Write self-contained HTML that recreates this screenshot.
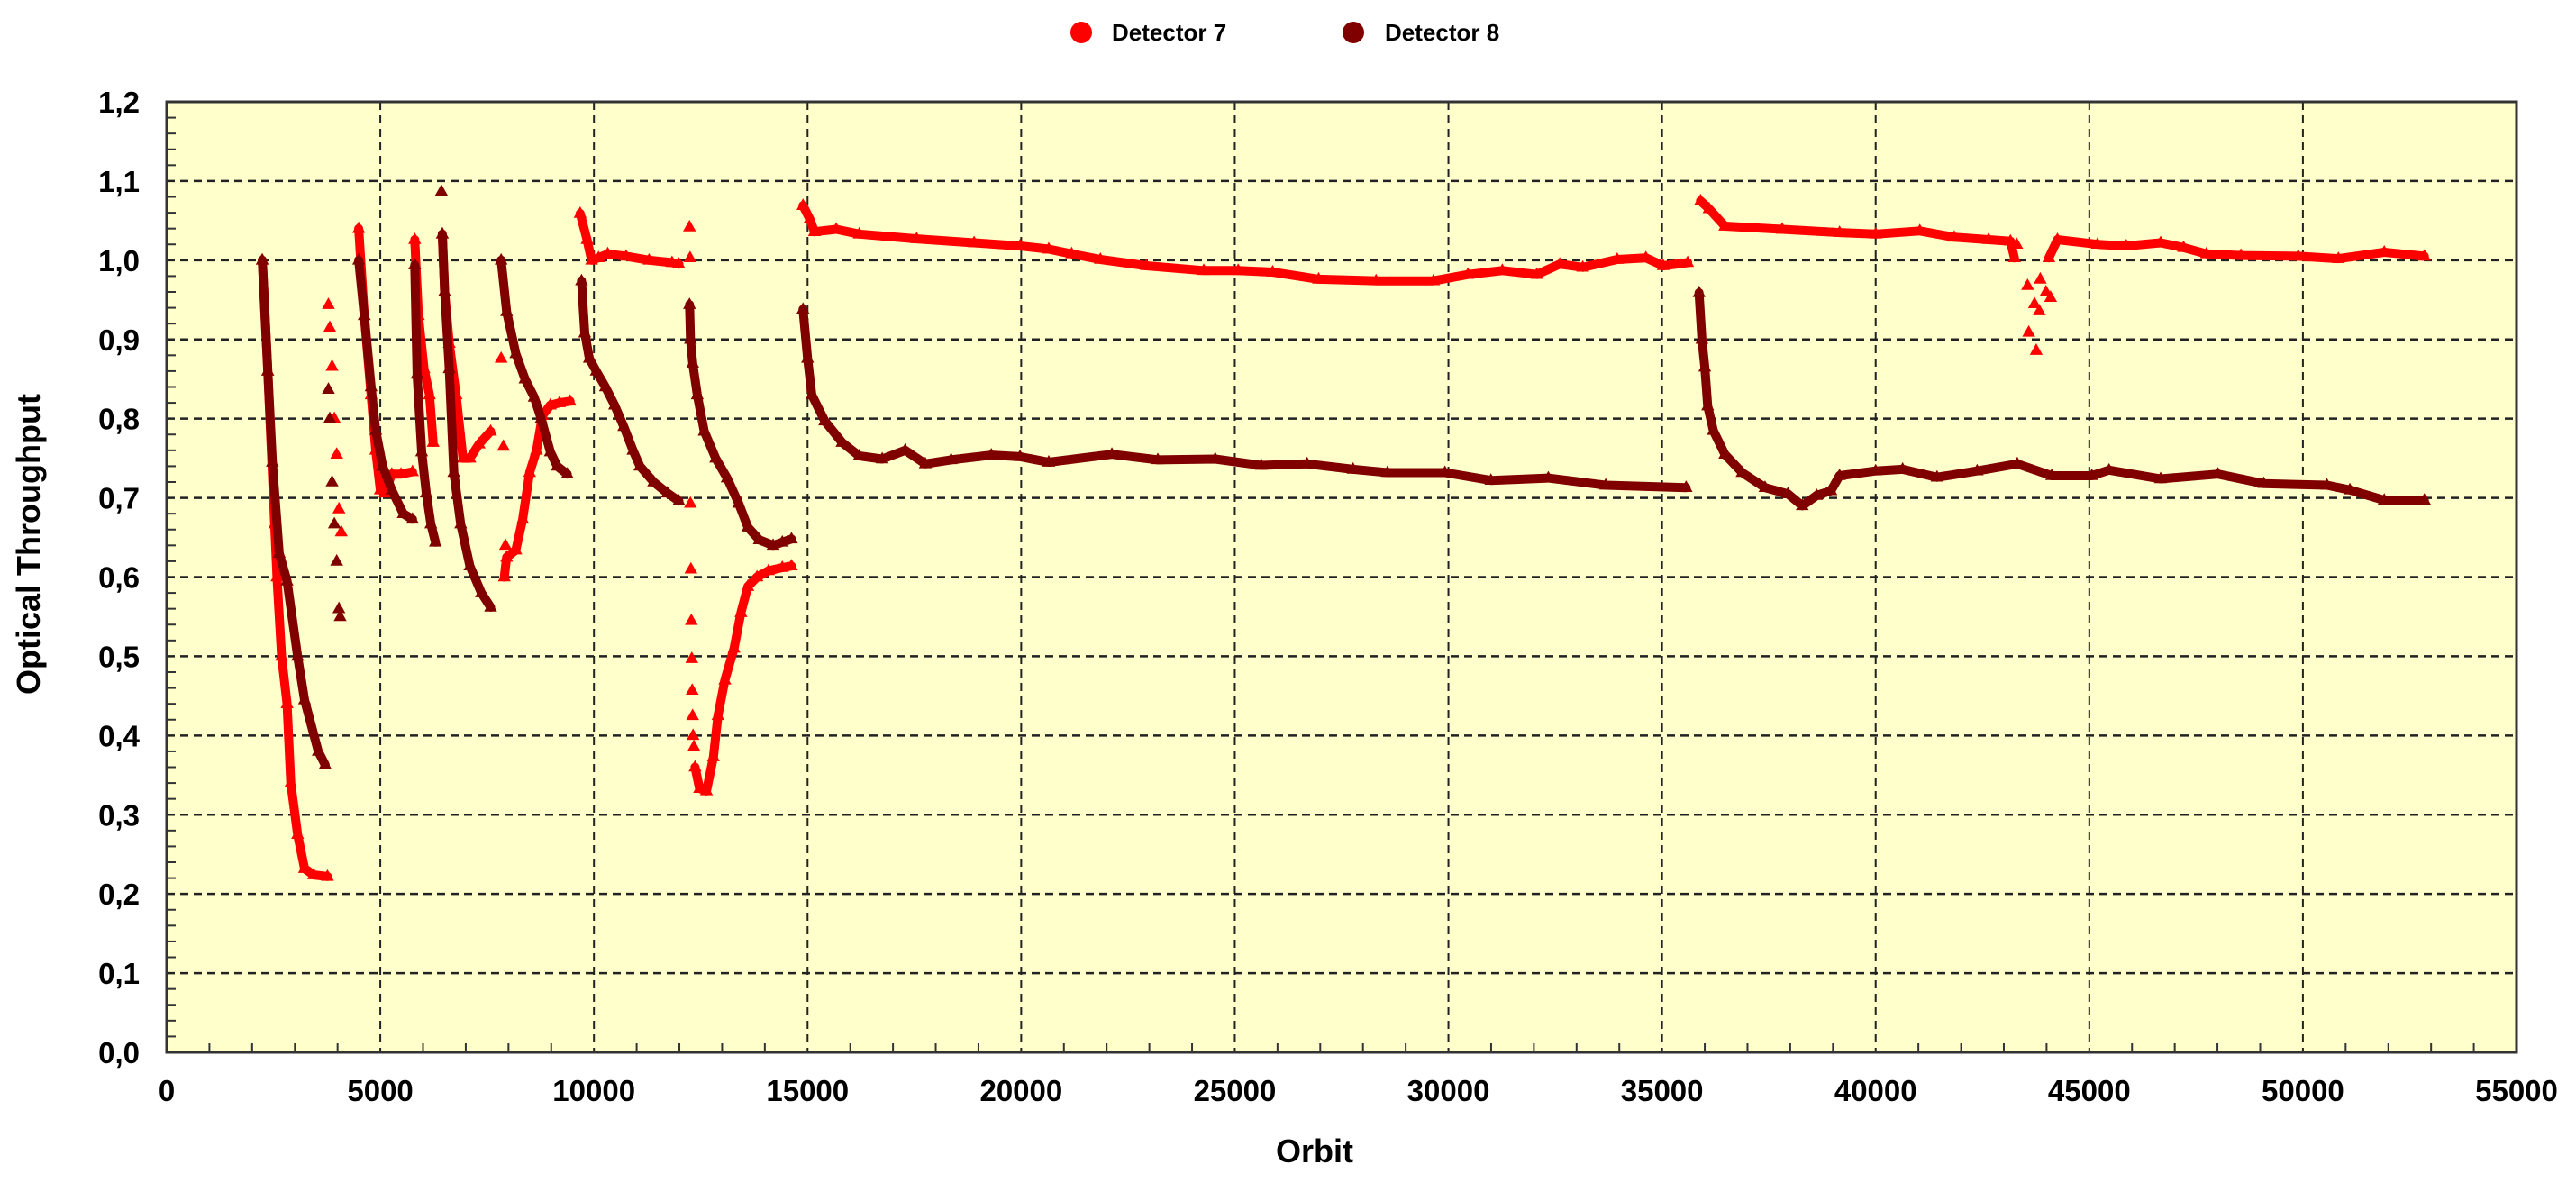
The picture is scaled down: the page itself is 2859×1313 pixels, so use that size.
<!DOCTYPE html>
<html><head><meta charset="utf-8"><style>
html,body{margin:0;padding:0;background:#fff;}
svg{display:block;font-family:"Liberation Sans",Arial,sans-serif;}
</style></head><body>
<svg id="chart" width="2859" height="1313" viewBox="0 0 2859 1313" xmlns="http://www.w3.org/2000/svg">
<g>
<circle cx="1200" cy="36" r="12" fill="#ff0000"/>
<text x="1234" y="45" font-size="26" font-weight="bold" fill="#000">Detector 7</text>
<circle cx="1502" cy="36" r="12" fill="#800000"/>
<text x="1537" y="45" font-size="26" font-weight="bold" fill="#000">Detector 8</text>
</g>
<rect x="185" y="113" width="2608" height="1055" fill="#ffffcc"/>
<g id="grid"></g>
<g id="series"></g>
<rect x="185" y="113" width="2608" height="1055" fill="none" stroke="#333" stroke-width="3"/>
<g id="axes"></g>
<text transform="translate(44,604) rotate(-90)" text-anchor="middle" font-size="36" font-weight="bold">Optical Throughput</text>
<text x="1459" y="1290" text-anchor="middle" font-size="36" font-weight="bold">Orbit</text>
</svg>
<script>
const xTicks=[0,5000,10000,15000,20000,25000,30000,35000,40000,45000,50000,55000];
const yTicks=[0,0.1,0.2,0.3,0.4,0.5,0.6,0.7,0.8,0.9,1.0,1.1,1.2];
const yTickLabels=["0,0","0,1","0,2","0,3","0,4","0,5","0,6","0,7","0,8","0,9","1,0","1,1","1,2"];
const d7x=[2237,2366,2527,2581,2688,2817,2903,3065,3226,3441,3763,null,
4495,4624,4785,4893,5000,5108,5269,5484,5753,null,
5806,5893,6022,6151,6237,null,
6452,6505,6613,6774,6935,7097,7312,7581,null,
7903,7957,8172,8333,8495,8656,8796,8979,9194,9441,null,
9677,9839,9946,10108,10323,10753,11290,11828,11989,null,
12366,12473,12634,12796,12903,13065,13280,13441,13602,13817,14086,14409,14624,null,
14893,15054,15161,15672,16210,17554,18898,19973,20645,21182,21854,22930,24274,25080,25886,26962,28306,29650,30456,31262,32069,32606,33144,33950,34622,35026,35600,null,
35900,36100,36470,37812,39155,40000,41033,41839,42644,43154,43248,null,
44053,44255,45193,45865,46670,47207,47743,48549,49891,50830,51904,52843];
const d7y=[1.0,0.86,0.667,0.60,0.50,0.44,0.34,0.275,0.232,0.224,0.222,null,
1.04,0.93,0.83,0.76,0.71,0.706,0.73,0.73,0.733,null,
1.026,0.93,0.863,0.83,0.77,null,
1.033,0.96,0.895,0.83,0.75,0.75,0.768,0.784,null,
0.60,0.625,0.634,0.673,0.732,0.76,0.804,0.817,0.82,0.822,null,
1.059,1.026,1.0,1.003,1.008,1.005,1.0,0.997,0.995,null,
0.36,0.333,0.33,0.373,0.425,0.47,0.51,0.555,0.588,0.60,0.608,0.612,0.614,null,
1.069,1.052,1.036,1.039,1.033,1.027,1.022,1.018,1.014,1.008,1.001,0.993,0.987,0.987,0.985,0.976,0.974,0.974,0.982,0.987,0.982,0.995,0.991,1.001,1.003,0.993,0.997,null,
1.075,1.065,1.043,1.039,1.035,1.033,1.037,1.029,1.026,1.024,1.003,null,
1.003,1.026,1.02,1.018,1.022,1.016,1.008,1.006,1.005,1.002,1.01,1.005];
const d7sx=[3785,3817,3871,3925,3979,4032,4086,7828,7882,7930,12237,12250,12258,12270,12280,12290,12300,12310,12320,12340,43300,43556,43583,43718,43758,43852,43830,43986,44094];
const d7sy=[0.944,0.915,0.866,0.80,0.755,0.686,0.657,0.876,0.765,0.64,1.042,1.003,0.693,0.61,0.545,0.497,0.457,0.425,0.40,0.386,1.02,0.968,0.909,0.945,0.886,0.976,0.936,0.96,0.953];
const d8x=[2237,2366,2473,2634,2817,3065,3226,3548,3710,null,
4495,4624,4785,4893,5054,5269,5538,5753,null,
5806,5860,5968,6075,6183,6290,null,
6452,6505,6613,6720,6882,7097,7366,7581,null,
7828,7957,8172,8387,8602,8764,8979,9140,9377,null,
9710,9785,9893,10054,10269,10484,10699,10914,11075,11398,11720,11989,null,
12237,12258,12312,12419,12581,12850,13118,13387,13602,13871,14194,14409,14624,null,
14893,15000,15100,15403,15806,16210,16747,17285,17755,18360,19301,19973,20645,22123,23198,24542,25618,26693,27768,28574,29918,30994,32338,33682,35563,null,
35867,35933,36000,36068,36202,36470,36873,37410,37947,38282,38618,38953,39154,40000,40631,41436,42375,43315,44120,45059,45462,46670,48012,49085,50562,51099,51904,52843];
const d8y=[1.0,0.86,0.745,0.63,0.595,0.50,0.445,0.38,0.363,null,
1.0,0.93,0.84,0.785,0.74,0.71,0.68,0.673,null,
0.994,0.856,0.758,0.706,0.667,0.644,null,
1.033,0.96,0.863,0.732,0.667,0.614,0.58,0.562,null,
1.0,0.935,0.882,0.85,0.827,0.80,0.758,0.74,0.73,null,
0.974,0.908,0.876,0.86,0.84,0.817,0.79,0.76,0.74,0.72,0.706,0.696,null,
0.944,0.90,0.87,0.83,0.784,0.75,0.725,0.693,0.663,0.647,0.64,0.644,0.648,null,
0.938,0.876,0.83,0.797,0.77,0.753,0.749,0.76,0.743,0.748,0.754,0.752,0.745,0.755,0.748,0.749,0.741,0.743,0.736,0.732,0.732,0.722,0.725,0.716,0.713,null,
0.959,0.9,0.865,0.816,0.785,0.755,0.732,0.713,0.705,0.69,0.703,0.709,0.728,0.734,0.736,0.726,0.734,0.743,0.728,0.728,0.735,0.724,0.73,0.718,0.716,0.71,0.697,0.697];
const d8sx=[3785,3817,3871,3925,3979,4032,4060,6430];
const d8sy=[0.837,0.80,0.72,0.667,0.62,0.56,0.55,1.087];

const NS="http://www.w3.org/2000/svg";
const X0=185,X1=2793,Y0=1168,Y1=113;
function sx(v){return X0+(v-0)/(55000-0)*(X1-X0);}
function sy(v){return Y0-(v-0)/(1.2-0)*(Y0-Y1);}
function mk(tag,attrs,parent){const e=document.createElementNS(NS,tag);for(const k in attrs)e.setAttribute(k,attrs[k]);parent.appendChild(e);return e;}
const grid=document.getElementById('grid'),axes=document.getElementById('axes'),series=document.getElementById('series');
xTicks.forEach((t,i)=>{
 if(i>0&&i<xTicks.length-1){const l=mk('line',{x1:sx(t),x2:sx(t),y1:Y1,y2:Y0,stroke:'#222','stroke-width':2,'stroke-dasharray':'9,6'},grid);
 
 }
 const tx=mk('text',{x:sx(t),y:1222,'text-anchor':'middle','font-size':33,'font-weight':'bold'},axes);
 tx.textContent=String(t);
 
 
});
yTicks.forEach((t,i)=>{
 if(i>0&&i<yTicks.length-1){const l=mk('line',{x1:X0,x2:X1,y1:sy(t),y2:sy(t),stroke:'#222','stroke-width':2.5,'stroke-dasharray':'9,6'},grid);
 
 }
 const tx=mk('text',{x:155,y:sy(t)+12,'text-anchor':'end','font-size':33,'font-weight':'bold'},axes);
 tx.textContent=yTickLabels[i];
 
 
});
for(let v=1000;v<55000;v+=1000){if(v%5000===0)continue;
 const l=mk('line',{x1:sx(v),x2:sx(v),y1:Y0,y2:Y0-10,stroke:'#333','stroke-width':2},axes);
 
 }
for(let k=1;k<60;k++){if(k%5===0)continue;const v=k*0.02;
 const l=mk('line',{x1:X0,x2:X0+10,y1:sy(v),y2:sy(v),stroke:'#333','stroke-width':2},axes);
 
 }
function tri(x,y,s){return `${x},${y-s} ${x-s*0.9},${y+s*0.6} ${x+s*0.9},${y+s*0.6}`;}
function drawSeries(xs,ys,sxs,sys,color,name){
 const g=mk('g',{},series);
 
 
 let pts=[];
 const flush=()=>{if(pts.length>1){const p=mk('polyline',{points:pts.join(' '),fill:'none',stroke:color,'stroke-width':10,'stroke-linejoin':'round','stroke-linecap':'round'},g);
  
  }pts=[];};
 for(let i=0;i<xs.length;i++){
  if(xs[i]===null){flush();continue;}
  pts.push(sx(xs[i]).toFixed(1)+','+sy(ys[i]).toFixed(1));
  const m=mk('polygon',{points:tri(sx(xs[i]),sy(ys[i]),8),fill:color},g);
  
  
 }
 flush();
 for(let i=0;i<sxs.length;i++){
  const m=mk('polygon',{points:tri(sx(sxs[i]),sy(sys[i]),8),fill:color},g);
  
  
 }
}
drawSeries(d7x,d7y,d7sx,d7sy,'#ff0000','detector-7-series');
drawSeries(d8x,d8y,d8sx,d8sy,'#800000','detector-8-series');
</script>
</body></html>
